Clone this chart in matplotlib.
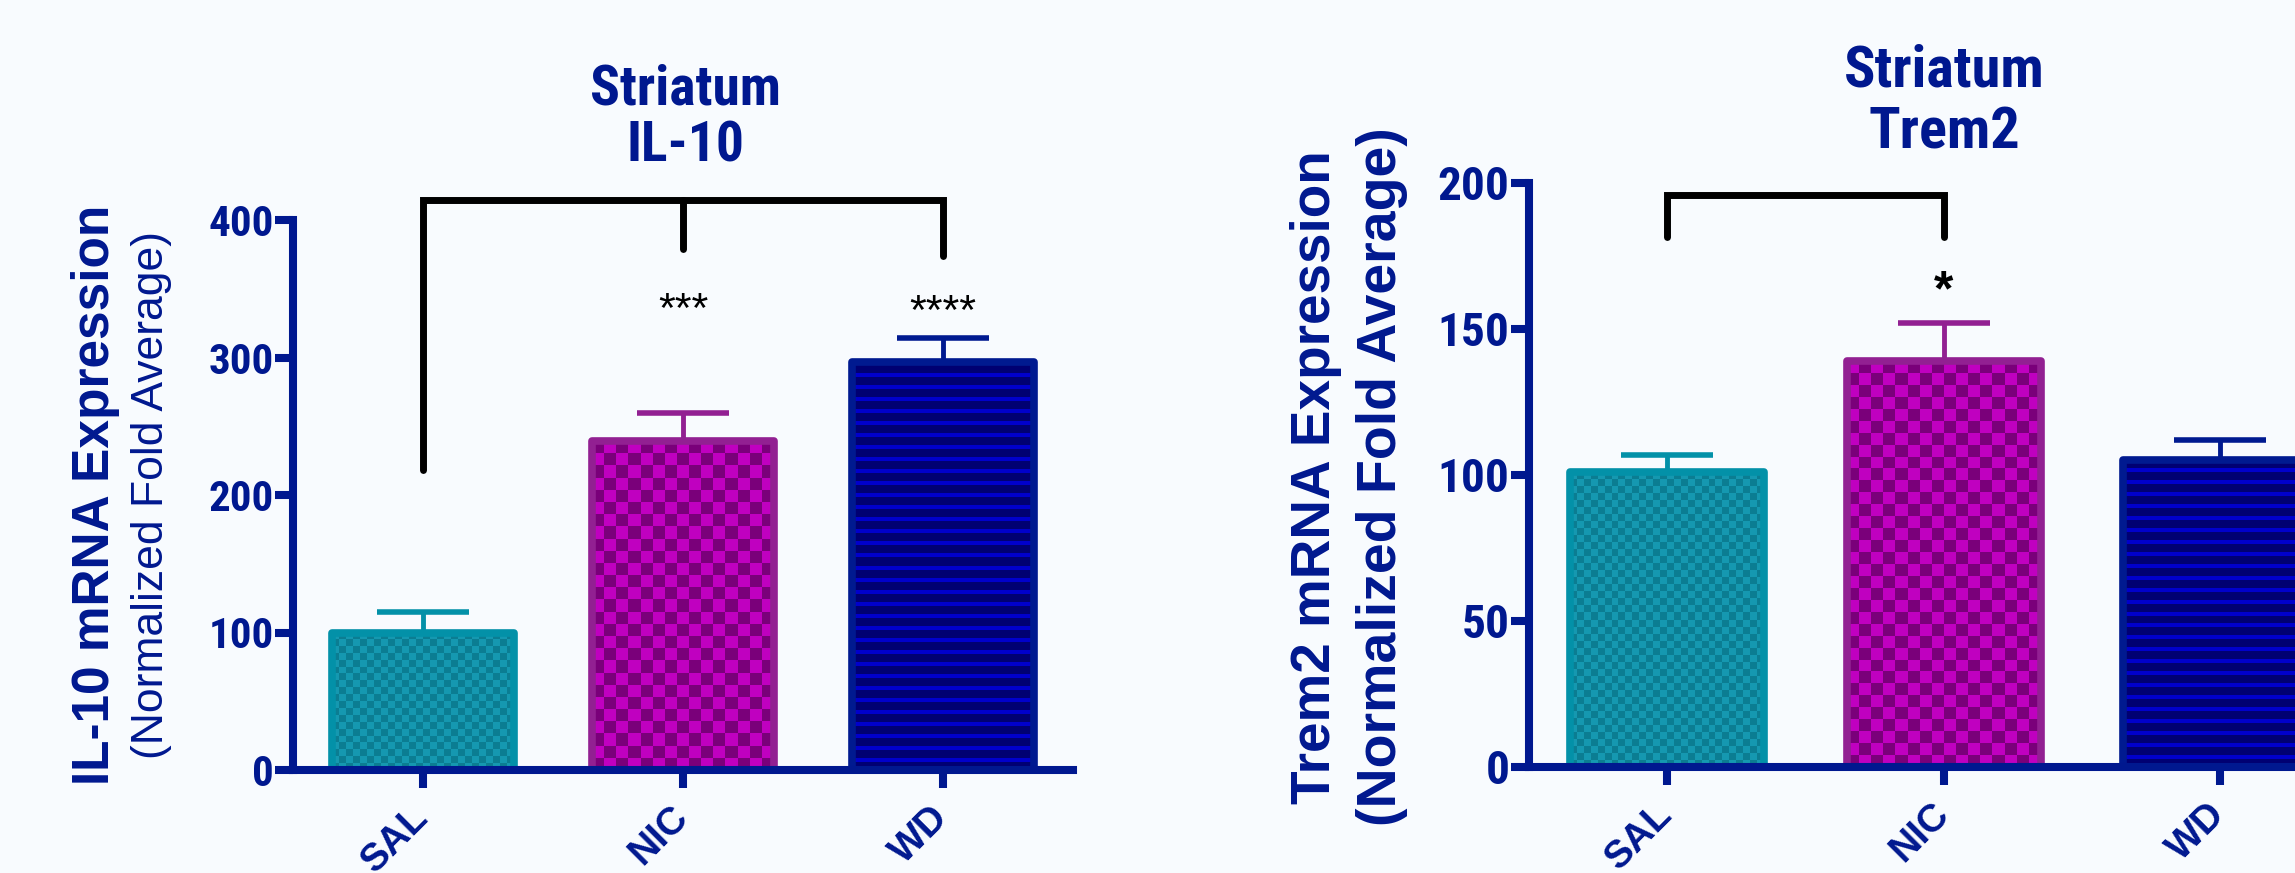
import numpy as np
import matplotlib
matplotlib.use('Agg')
import matplotlib.pyplot as plt
from matplotlib.colors import ListedColormap
from matplotlib import font_manager

groups = ['SAL', 'NIC', 'WD']

# IL-10 panel
il10_mean = [100, 239, 297]
il10_err = [15, 21, 17]
il10_bracket_top = 414.5
il10_bracket_legs = [218, 379, 374]   # bottom end of each leg (SAL, NIC, WD)
il10_stars = ['', '***', '****']
il10_star_y = [0, 326, 324]

# Trem2 panel
trem2_mean = [101, 139, 105]
trem2_err = [6, 13, 7]
trem2_bracket_top = 196
trem2_bracket_legs = [181.5, 181.5]   # SAL, NIC
trem2_stars = ['', '*', '']
trem2_star_y = [0, 158, 0]

navy = '#00188f'
bg = '#f8fbfe'
edge_cols = ['#0391a8', '#922092', '#001a90']
fill_cols = [('#0b7d92', '#1598b0'), ('#7a007a', '#c000c0'), ('#000072', '#0000cc')]
patterns = ['checker', 'checker', 'stripes']
cell_px = [7, 12, 12]

# condensed face if one is installed, else plain Liberation Sans
installed = {f.name for f in font_manager.fontManager.ttflist}
narrow = [n for n in ['Liberation Sans Narrow', 'Arial Narrow', 'Roboto Condensed',
                      'Open Sans Condensed'] if n in installed]
narrow += ['Liberation Sans', 'DejaVu Sans']
arial = ['Liberation Sans', 'DejaVu Sans']

fig = plt.figure(figsize=(22.95, 8.73), dpi=100, facecolor=bg)
axL = fig.add_axes([293/2295, (873-770)/873, 780/2295, 550/873])
axR = fig.add_axes([1529/2295, (873-767)/873, 829.5/2295, 584/873])


def fill_pattern(ax, bar, kind, cols, cell):
    x0, y0 = bar.get_x(), bar.get_y()
    w, h = bar.get_width(), bar.get_height()
    (px0, py0), (px1, py1) = ax.transData.transform([(x0, y0), (x0 + w, y0 + h)])
    nx = max(1, int(round((px1 - px0) / cell)))
    ny = max(1, int(round((py1 - py0) / cell)))
    if kind == 'checker':
        arr = np.add.outer(np.arange(ny), np.arange(nx)) % 2
    else:
        nrow = max(1, int(round((py1 - py0) / 4)))
        arr = (np.arange(nrow) % 3 == 2).astype(int)[:, None]
    im = ax.imshow(arr, extent=(x0, x0 + w, y0, y0 + h), origin='lower',
                   cmap=ListedColormap(list(cols)), vmin=0, vmax=1,
                   aspect='auto', interpolation='nearest', zorder=2)
    im.set_clip_path(bar)


def panel(ax, means, errs, ymax, ystep, tick_fs):
    ax.set_facecolor('none')
    x = np.arange(len(groups))
    ax.set_xlim(-0.5, 2.5)
    ax.set_ylim(0, ymax)
    bars = ax.bar(x, means, width=0.7, facecolor='none', edgecolor=edge_cols,
                  linewidth=5.5, zorder=3)
    for i, b in enumerate(bars):
        b.set_joinstyle('round')
        fill_pattern(ax, b, patterns[i], fill_cols[i], cell_px[i])
        ax.errorbar(x[i], means[i], yerr=[[0], [errs[i]]], fmt='none',
                    ecolor=edge_cols[i], elinewidth=3.5, capsize=33,
                    capthick=4, zorder=1)
    ax.set_xlim(-0.5, 2.5)
    ax.set_ylim(0, ymax)
    for s in ['top', 'right']:
        ax.spines[s].set_visible(False)
    for s in ['left', 'bottom']:
        ax.spines[s].set_color(navy)
        ax.spines[s].set_linewidth(5.8)
        ax.spines[s].set_zorder(4)
    ax.set_yticks(np.arange(0, ymax + 1, ystep))
    ax.set_xticks(x)
    ax.set_xticklabels(groups, rotation=45, ha='right', va='center',
                       rotation_mode='anchor', fontsize=28, fontweight='bold',
                       family=arial, color=navy)
    for lab in ax.get_yticklabels():
        lab.set_family(narrow)
        lab.set_fontweight('bold')
        lab.set_fontsize(tick_fs)
        lab.set_color(navy)
    ax.tick_params(axis='both', direction='out', length=13, width=5.8,
                   color=navy)
    ax.tick_params(axis='y', pad=1)
    ax.tick_params(axis='x', pad=17)


panel(axL, il10_mean, il10_err, 400, 100, 31)
panel(axR, trem2_mean, trem2_err, 200, 50, 34)

# significance brackets
bl = il10_bracket_top
axL.plot([0, 0, 2, 2], [il10_bracket_legs[0], bl, bl, il10_bracket_legs[2]],
         color='black', lw=5, solid_capstyle='round', solid_joinstyle='miter',
         clip_on=False, zorder=5)
axL.plot([1, 1], [bl, il10_bracket_legs[1]], color='black', lw=5,
         solid_capstyle='round', clip_on=False, zorder=5)
br = trem2_bracket_top
axR.plot([0, 0, 1, 1], [trem2_bracket_legs[0], br, br, trem2_bracket_legs[1]],
         color='black', lw=5, solid_capstyle='round', solid_joinstyle='miter',
         clip_on=False, zorder=5)

for i, s in enumerate(il10_stars):
    if s:
        axL.text(i, il10_star_y[i], s, ha='center', va='baseline',
                 fontsize=31, family=arial, color='black')
for i, s in enumerate(trem2_stars):
    if s:
        axR.text(i, trem2_star_y[i], s, ha='center', va='baseline',
                 fontsize=36, fontweight='bold', family=arial, color='black')

# titles
fig.text(686/2295, 1 - 118/873, 'Striatum\nIL-10', ha='center', va='center',
         fontsize=40, fontweight='bold', family=narrow, color=navy,
         linespacing=1.14)
fig.text(1944/2295, 1 - 102/873, 'Striatum\nTrem2', ha='center', va='center',
         fontsize=42, fontweight='bold', family=narrow, color=navy,
         linespacing=1.18)

# y labels
fig.text(96/2295, 1 - 495/873, 'IL-10 mRNA Expression', rotation=90,
         ha='center', va='center', fontsize=37, fontweight='bold',
         family=arial, color=navy)
fig.text(152/2295, 1 - 495/873, '(Normalized Fold Average)', rotation=90,
         ha='center', va='center', fontsize=32, family=arial, color=navy)
fig.text(1316/2295, 1 - 477/873, 'Trem2 mRNA Expression', rotation=90,
         ha='center', va='center', fontsize=39.5, fontweight='bold',
         family=arial, color=navy)
fig.text(1382/2295, 1 - 477/873, '(Normalized Fold Average)', rotation=90,
         ha='center', va='center', fontsize=40, fontweight='bold',
         family=arial, color=navy)

plt.savefig('out.png', dpi=100, facecolor=bg)
